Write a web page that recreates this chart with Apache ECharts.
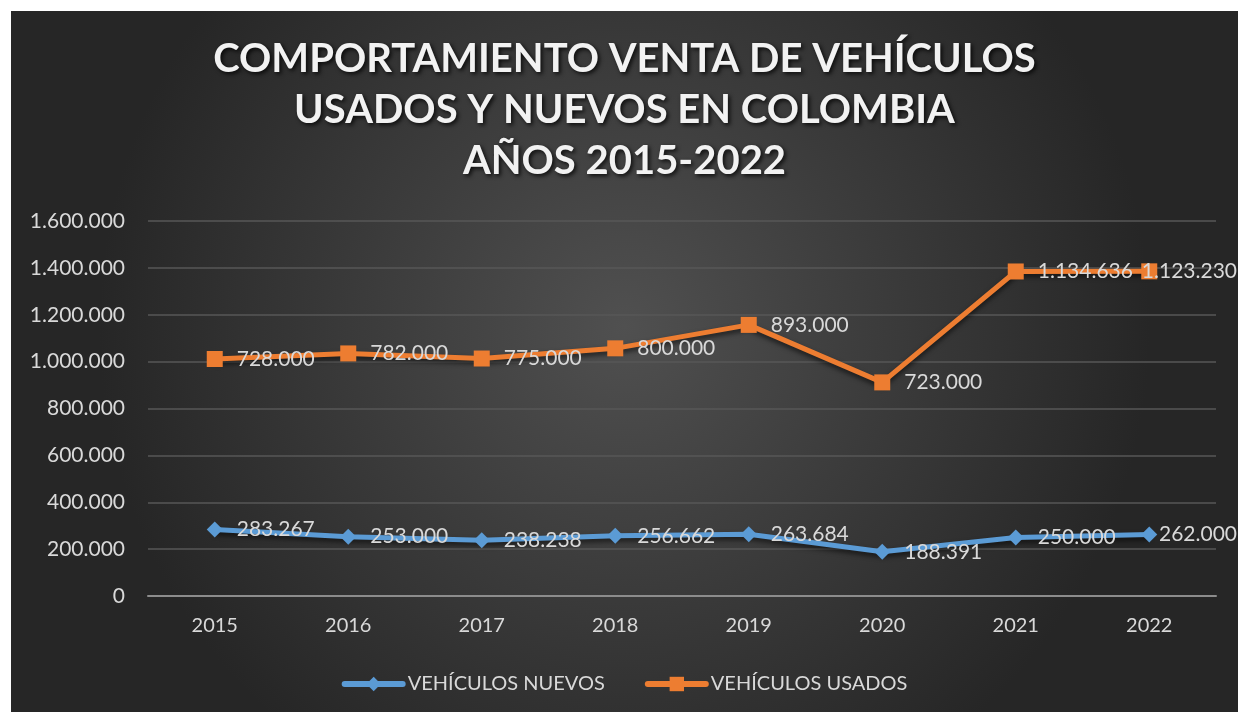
<!DOCTYPE html>
<html>
<head>
<meta charset="utf-8">
<script src="https://cdn.jsdelivr.net/npm/echarts@6/dist/echarts.min.js"></script>
<style>
  html, body { margin: 0; padding: 0; background: #ffffff; }
  #chart { position: absolute; left: 11px; top: 11px; width: 1227px; height: 701px; }
</style>
</head>
<body>
<div id="chart"></div>
<script>
const years = ['2015', '2016', '2017', '2018', '2019', '2020', '2021', '2022']
const nuevos = [283267, 253000, 238238, 256662, 263684, 188391, 250000, 262000]
const usados = [728000, 782000, 775000, 800000, 893000, 723000, 1134636, 1123230]

const FONT = 'Lato, "Open Sans", sans-serif'
const TEXT = '#d9d9d9'

// separador de miles con punto
const fmt = (v) => String(v).replace(/\B(?=(\d{3})+(?!\d))/g, '.')

const el = document.getElementById('chart')
const chart = echarts.init(el)

const labelStyle = {
  show: true,
  position: 'right',
  distance: 14,
  color: TEXT,
  fontSize: 21,
  fontFamily: FONT,
  formatter: (p) => fmt(p.value),
}

// como en Excel: la etiqueta que no cabe se corre hacia la izquierda
const keepInside = (p) => {
  const r = p.labelRect
  const maxX = el.clientWidth - 1
  if (r.x + r.width > maxX) {
    return { x: maxX - r.width, y: r.y, align: 'left', verticalAlign: 'top' }
  }
  return {}
}

chart.setOption({
  backgroundColor: {
    type: 'radial',
    x: 0.5,
    y: 0.45,
    r: 0.75,
    colorStops: [
      { offset: 0, color: '#505050' },
      { offset: 1, color: '#262626' },
    ],
  },
  title: {
    text: 'COMPORTAMIENTO VENTA DE VEHÍCULOS\nUSADOS Y NUEVOS EN COLOMBIA\nAÑOS 2015-2022',
    left: 'center',
    top: 18,
    textStyle: {
      color: '#f2f2f2',
      fontSize: 40,
      fontWeight: 'bold',
      fontFamily: FONT,
      lineHeight: 51,
      textShadowColor: 'rgba(0,0,0,0.8)',
      textShadowBlur: 4,
      textShadowOffsetX: 2,
      textShadowOffsetY: 2,
    },
  },
  legend: {
    bottom: 13,
    left: 'center',
    itemWidth: 58,
    itemHeight: 18,
    itemGap: 40,
    lineStyle: { width: 6, cap: 'round' },
    textStyle: { color: TEXT, fontSize: 20, fontFamily: FONT },
    data: [
      { name: 'VEHÍCULOS NUEVOS', lineStyle: { width: 6 } },
      { name: 'VEHÍCULOS USADOS', lineStyle: { width: 6 } },
    ],
  },
  grid: {
    left: 137,
    right: 22,
    top: 210,
    bottom: 116,
  },
  xAxis: {
    type: 'category',
    data: years,
    axisTick: { show: false },
    axisLine: { lineStyle: { color: '#8c8c8c', width: 2 } },
    axisLabel: { color: TEXT, fontSize: 20, fontFamily: FONT, margin: 20 },
  },
  yAxis: {
    type: 'value',
    min: 0,
    max: 1600000,
    interval: 200000,
    axisLine: { show: false },
    axisTick: { show: false },
    splitLine: { lineStyle: { color: '#575757', width: 1.5 } },
    axisLabel: {
      color: TEXT,
      fontSize: 21,
      fontFamily: FONT,
      margin: 23,
      formatter: (v) => fmt(v),
    },
  },
  series: [
    {
      name: 'VEHÍCULOS NUEVOS',
      type: 'line',
      stack: 'total',
      data: nuevos,
      symbol: 'diamond',
      symbolSize: 16,
      lineStyle: {
        color: '#5b9bd5',
        width: 5,
        shadowColor: 'rgba(0,0,0,0.6)',
        shadowBlur: 5,
        shadowOffsetY: 3,
      },
      itemStyle: { color: '#5b9bd5' },
      label: labelStyle,
      labelLayout: keepInside,
    },
    {
      name: 'VEHÍCULOS USADOS',
      type: 'line',
      stack: 'total',
      data: usados,
      symbol: 'rect',
      symbolSize: 16,
      lineStyle: {
        color: '#ed7d31',
        width: 5,
        shadowColor: 'rgba(0,0,0,0.6)',
        shadowBlur: 5,
        shadowOffsetY: 3,
      },
      itemStyle: { color: '#ed7d31' },
      label: labelStyle,
      labelLayout: keepInside,
    },
  ],
})
</script>
</body>
</html>
